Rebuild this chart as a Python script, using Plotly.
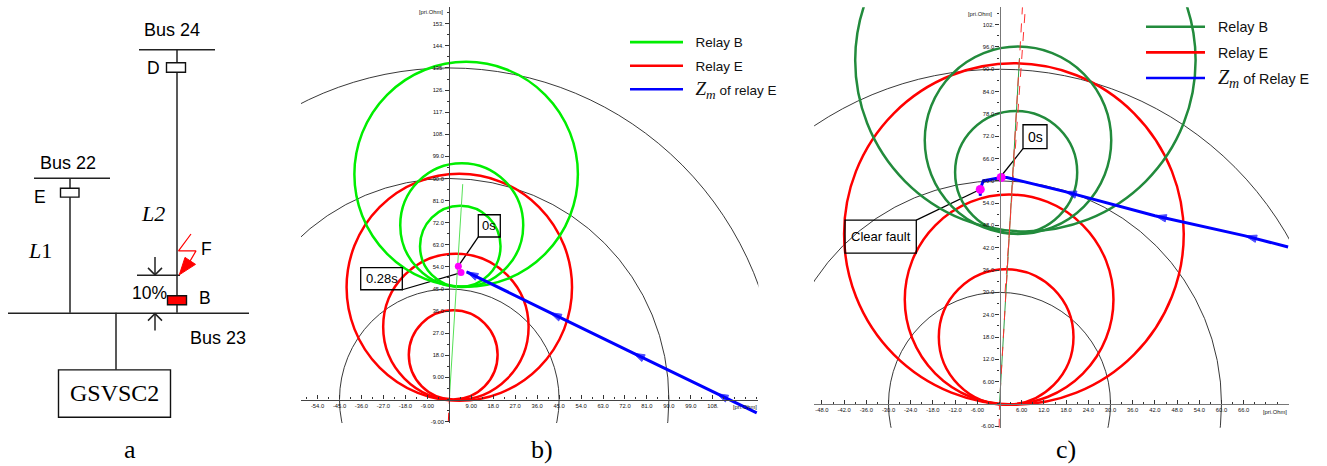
import plotly.graph_objects as go

W, H = 1327, 466
SANS = "Liberation Sans"
SERIF = "Liberation Serif"

# ---------- data: panel b (pri.Ohm) ----------
b_arc_radii = [45, 90, 135]
b_red_cx = [1.6, 2.7, 4.1]
b_red_cy = [18.2, 29.6, 45.7]
b_red_r = [18.2, 29.8, 46.2]
b_green_cx = [4.5, 5.1, 6.9]
b_green_cy = [62.4, 71.0, 91.7]
b_green_r = [16.5, 25.2, 45.8]
b_blue_x = [126.0, 109.6, 75.4, 41.3, 7.1]
b_blue_y = [-5.4, 2.4, 18.9, 35.4, 52.0]
b_blue_size = [0, 12, 12, 12, 12]
b_pink_x = [3.7, 4.8]
b_pink_y = [54.3, 51.7]
b_green_dash_x = [0.0, 5.5]
b_green_dash_y = [0.0, 87.7]
b_red_dash_x = [-0.4, 0.3]
b_red_dash_y = [-9.0, 5.0]
b_xticks = [-54, -45, -36, -27, -18, -9, 9, 18, 27, 36, 45, 54, 63, 72, 81, 90, 99, 108]
b_xlabels = ["-54.0", "-45.0", "-36.0", "-27.0", "-18.0", "-9.00", "9.00", "18.0", "27.0", "36.0",
             "45.0", "54.0", "63.0", "72.0", "81.0", "90.0", "99.0", "108."]
b_yticks = [-9, 9, 18, 27, 36, 45, 54, 63, 72, 81, 90, 99, 108, 117, 126, 135, 144, 153]
b_ylabels = ["-9.00", "9.00", "18.0", "27.0", "36.0", "45.0", "54.0", "63.0", "72.0", "81.0",
             "90.0", "99.0", "108.", "117.", "126.", "135.", "144.", "153."]

# ---------- data: panel c (pri.Ohm) ----------
c_arc_radii = [30, 60, 90]
c_red_cx = [1.8, 2.6, 3.9]
c_red_cy = [18.0, 28.1, 45.7]
c_red_r = [18.2, 28.2, 45.9]
c_green_cx = [4.5, 5.0, 7.0]
c_green_cy = [62.3, 70.9, 92.4]
c_green_r = [16.5, 25.2, 46.0]
c_blue_x = [78.0, 66.4, 42.0, 17.7, 2.0, 0.45, -4.4, -5.2, -5.2]
c_blue_y = [42.2, 45.2, 50.6, 57.1, 60.9, 60.9, 60.0, 57.7, 56.0]
c_blue_size = [0, 12, 12, 12, 0, 0, 0, 0, 8]
c_pink_x = [0.45, -5.2]
c_pink_y = [60.9, 57.7]
c_green_dash_x = [0.0, 5.4]
c_green_dash_y = [0.0, 93.0]
c_red_dash_x = [-0.1, 0.0, 6.2]
c_red_dash_y = [-6.4, 0.0, 106.7]
c_red_dash2_x = [1.5, 7.0]
c_red_dash2_y = [30.0, 106.7]
c_xticks = [-48, -42, -36, -30, -24, -18, -12, -6, 6, 12, 18, 24, 30, 36, 42, 48, 54, 60, 66]
c_xlabels = ["-48.0", "-42.0", "-36.0", "-30.0", "-24.0", "-18.0", "-12.0", "-6.00", "6.00", "12.0",
             "18.0", "24.0", "30.0", "36.0", "42.0", "48.0", "54.0", "60.0", "66.0"]
c_yticks = [-6, 6, 12, 18, 24, 30, 36, 42, 48, 54, 60, 66, 72, 78, 84, 90, 96, 102]
c_ylabels = ["-6.00", "6.00", "12.0", "18.0", "24.0", "30.0", "36.0", "42.0", "48.0", "54.0",
             "60.0", "66.0", "72.0", "78.0", "84.0", "90.0", "96.0", "102."]

# ---------- data: panel a (one-line diagram) ----------
diagram_lines = {
    "bus24": ([139, 215], [50, 50]),
    "line2": ([177, 177], [50, 314]),
    "bus22": ([34, 110], [179, 179]),
    "line1": ([70, 70], [179, 314]),
    "bus23": ([8, 249], [314.5, 314.5]),
    "gsvsc": ([116, 116], [314, 371]),
    "mark": ([137, 180], [276.5, 276.5]),
    "down": ([155, 155], [258, 276]),
    "down_head": ([148, 155, 162], [269, 276, 269]),
    "up": ([155, 155], [332, 315]),
    "up_head": ([148, 155, 162], [322, 315, 322]),
}
fault_x = [191, 178.5, 196, 189]
fault_y = [235, 252, 252, 264]
fault_head_x = [179.3, 185, 195.5, 179.3]
fault_head_y = [276, 258.5, 265.5, 276]
diagram_boxes = {
    "D": ([166.5, 185.5], [63, 72.5], "white"),
    "E": ([60.5, 79], [189, 198], "white"),
    "B": ([167.5, 186.5], [297, 306], "#FF0000"),
    "G": ([58.5, 170.5], [371.5, 419], "white"),
}
diagram_text = [
    ("Bus 24", 172, 30, SANS, 18), ("D", 153.5, 68, SANS, 17.5), ("Bus 22", 68, 164, SANS, 18),
    ("E", 40, 198, SANS, 17.5), ("<i>L</i>1", 40, 252, SERIF, 22), ("<i>L2</i>", 153, 214, SERIF, 22),
    ("F", 206, 250, SANS, 17.5), ("10%", 149, 294, SANS, 17.5), ("B", 205, 299, SANS, 17.5),
    ("Bus 23", 218, 339, SANS, 18), ("GSVSC2", 114.5, 395, SERIF, 24), ("a", 130, 451, SERIF, 26),
]

fig = go.Figure()
shapes, annos = [], []


def add_text(text, x, y, font, size, xref="paper", yref="paper", color="black", xa="center"):
    annos.append(dict(text=text, x=x, y=y, xref=xref, yref=yref, xanchor=xa, yanchor="middle",
                      showarrow=False, font=dict(family=font, size=size, color=color)))


def line(trace_x, trace_y, xa, ya, color="black", width=1.5, dash="solid"):
    fig.add_trace(go.Scatter(x=trace_x, y=trace_y, xaxis=xa, yaxis=ya, mode="lines", showlegend=False,
                             hoverinfo="skip", line=dict(color=color, width=width, dash=dash)))


def key(name, color, xa, ya, legend):
    # empty series: supplies only the legend row, without the path's arrow markers
    fig.add_trace(go.Scatter(x=[None], y=[None], xaxis=xa, yaxis=ya, mode="lines", name=name,
                             legend=legend, legendgroup=name + legend, line=dict(color=color, width=2.6)))


def circles(cx, cy, r, xa, ya, color, width):
    for i in range(len(cx)):
        shapes.append(dict(type="circle", xref=xa, yref=ya, x0=cx[i] - r[i], x1=cx[i] + r[i],
                           y0=cy[i] - r[i], y1=cy[i] + r[i], layer="below", line=dict(color=color, width=width)))


def panel(suffix, x0, x1, y_top, y_bot, ox, oy, sx, sy, xticks, xlabels, yticks, ylabels, xminor, yminor, axcolor):
    xname, yname = f"xaxis{suffix}", f"yaxis{suffix}"
    common = dict(showgrid=False, zeroline=False, showline=True, linecolor=axcolor, linewidth=1.4,
                  tickcolor="#333", tickfont=dict(family=SANS, size=5.8, color="#111"),
                  ticklen=4, tickwidth=1, tickmode="array")
    fig.update_layout({
        xname: dict(common, domain=[x0 / W, x1 / W], range=[(x0 - ox) / sx, (x1 - ox) / sx], anchor="free",
                    position=1 - oy / H, ticks="inside", tickvals=xticks, ticktext=xlabels,
                    minor=dict(dtick=xminor, ticks="inside", ticklen=2, tickcolor="#333", tickwidth=1),
                    side="bottom"),
        yname: dict(common, domain=[1 - y_bot / H, 1 - y_top / H], range=[(oy - y_bot) / sy, (oy - y_top) / sy],
                    anchor="free", position=ox / W, ticks="outside", tickvals=yticks, ticktext=ylabels,
                    minor=dict(dtick=yminor, ticks="outside", ticklen=2, tickcolor="#333", tickwidth=1),
                    side="left"),
    })


def px(x):
    return x / W


def py(y):
    return 1 - y / H


def paper_line(x0, y0, x1, y1, width=1.3):
    shapes.append(dict(type="line", xref="paper", yref="paper", x0=px(x0), x1=px(x1), y0=py(y0), y1=py(y1),
                       layer="below", line=dict(color="black", width=width)))


def label_box(text, x0, y0, x1, y1, size=13):
    shapes.append(dict(type="rect", xref="paper", yref="paper", x0=px(x0), x1=px(x1), y0=py(y0), y1=py(y1),
                       layer="above", line=dict(color="black", width=1.3)))
    add_text(text, px((x0 + x1) / 2), py((y0 + y1) / 2), SANS, size)


GAP = "\u00a0\u00a0"

# ---------- panel b ----------
BX, BY, BSX, BSY = 449.3, 401.3, 2.44, 2.467
panel("", 301, 758.3, 7.3, 424.7, BX, BY, BSX, BSY, b_xticks, b_xlabels, b_yticks, b_ylabels, 4.5, 4.5, "#444")
circles([0] * 3, [0] * 3, b_arc_radii, "x", "y", "#222", 0.9)
circles(b_red_cx, b_red_cy, b_red_r, "x", "y", "#FF0000", 2.5)
circles(b_green_cx, b_green_cy, b_green_r, "x", "y", "#00EE00", 2.5)
key(GAP + "Relay B", "#00EE00", "x", "y", "legend")
key(GAP + "Relay E", "#FF0000", "x", "y", "legend")
key(GAP + '<span style="font-family:Liberation Serif;font-size:19px"><i>Z</i><sub><i>m</i></sub></span> of relay E',
    "#0000FF", "x", "y", "legend")
line(b_green_dash_x, b_green_dash_y, "x", "y", "#55E055", 1)
line(b_red_dash_x, b_red_dash_y, "x", "y", "#FF0000", 1, "dash")
fig.add_trace(go.Scatter(x=b_blue_x, y=b_blue_y, xaxis="x", yaxis="y", mode="lines+markers", showlegend=False,
                         line=dict(color="#0000FF", width=3, backoff=0),
                         marker=dict(symbol="arrow", size=b_blue_size, angleref="previous", color="#0000FF",
                                     line=dict(width=1, color="#0000FF"))))
fig.add_trace(go.Scatter(x=b_pink_x, y=b_pink_y, xaxis="x", yaxis="y", mode="markers", showlegend=False,
                         marker=dict(color="#FF00FF", size=7)))
label_box("0s", 478.3, 215.7, 500.3, 238)
paper_line(478.3, 238, 458.3, 267.3)
label_box("0.28s", 360.7, 268.7, 402.3, 291)
paper_line(402.3, 291, 461, 273.7)
add_text("[pri.Ohm]", px(431), py(12.3), SANS, 5.8, color="#111")
add_text("[pri.Ohm]", px(745), py(408.7), SANS, 5.8, color="#111")
add_text("b)", px(541.5), py(451), SERIF, 26)

# ---------- panel c ----------
CX, CY, CSX, CSY = 999.5, 405.7, 3.7, 3.735
panel("2", 814, 1289, 7.3, 429.7, CX, CY, CSX, CSY, c_xticks, c_xlabels, c_yticks, c_ylabels, 3, 3, "#777")
circles([0] * 3, [0] * 3, c_arc_radii, "x2", "y2", "#222", 0.9)
circles(c_red_cx, c_red_cy, c_red_r, "x2", "y2", "#FF0000", 2.5)
circles(c_green_cx, c_green_cy, c_green_r, "x2", "y2", "#228B3C", 2.5)
key(GAP + "Relay B", "#228B3C", "x2", "y2", "legend2")
key(GAP + "Relay E", "#FF0000", "x2", "y2", "legend2")
key(GAP + '<span style="font-family:Liberation Serif;font-size:20px"><i>Z</i><sub><i>m</i></sub></span> of Relay E',
    "#0000FF", "x2", "y2", "legend2")
line(c_green_dash_x, c_green_dash_y, "x2", "y2", "#2E9E45", 1)
line(c_red_dash_x, c_red_dash_y, "x2", "y2", "#FF3030", 1, "dash")
line(c_red_dash2_x, c_red_dash2_y, "x2", "y2", "#FF3030", 1, "dash")
fig.add_trace(go.Scatter(x=c_blue_x, y=c_blue_y, xaxis="x2", yaxis="y2", mode="lines+markers", showlegend=False,
                         line=dict(color="#0000FF", width=3, backoff=0),
                         marker=dict(symbol="arrow", size=c_blue_size, angleref="previous", color="#0000FF",
                                     line=dict(width=1, color="#0000FF"))))
fig.add_trace(go.Scatter(x=c_pink_x, y=c_pink_y, xaxis="x2", yaxis="y2", mode="markers", showlegend=False,
                         marker=dict(color="#FF00FF", size=9)))
label_box("0s", 1023, 125.3, 1047, 149.3, 14)
paper_line(1023, 149.3, 1001, 177)
label_box("Clear fault", 845, 221, 916.3, 254.3, 13)
paper_line(916.3, 221, 980, 190.3)
add_text("[pri.Ohm]", px(980.3), py(13.7), SANS, 5.8, color="#111")
add_text("[pri.Ohm]", px(1275), py(413.7), SANS, 5.8, color="#111")
add_text("c)", px(1066), py(451), SERIF, 26)

# ---------- panel a ----------
for xs, ys in diagram_lines.values():
    line(xs, ys, "x3", "y3", "#222", 1.5)
line(fault_x, fault_y, "x3", "y3", "#FF0000", 1.2)
fig.add_trace(go.Scatter(x=fault_head_x, y=fault_head_y, xaxis="x3", yaxis="y3", mode="lines", fill="toself",
                         fillcolor="#FF0000", showlegend=False, hoverinfo="skip",
                         line=dict(color="#FF0000", width=1)))
for xs, ys, fill in diagram_boxes.values():
    shapes.append(dict(type="rect", xref="x3", yref="y3", x0=xs[0], x1=xs[1], y0=ys[0], y1=ys[1],
                       layer="above", fillcolor=fill, line=dict(color="#111", width=1.4)))
for t, x, y, f, s in diagram_text:
    add_text(t, x, y, f, s, "x3", "y3")

legend_common = dict(bgcolor="rgba(0,0,0,0)", borderwidth=0, xanchor="left", yanchor="top", traceorder="grouped",
                     itemclick=False, itemdoubleclick=False)
fig.update_layout(
    width=W, height=H, margin=dict(l=0, r=0, t=0, b=0), plot_bgcolor="white", paper_bgcolor="white",
    showlegend=True, shapes=shapes, annotations=annos,
    xaxis3=dict(domain=[0, 290 / W], range=[0, 290], visible=False, anchor="y3"),
    yaxis3=dict(domain=[0, 1], range=[H, 0], visible=False, anchor="x3"),
    legend=dict(legend_common, x=625 / W, y=1 - 27 / H, itemwidth=53, tracegroupgap=3,
                font=dict(family=SANS, size=13.5, color="#111")),
    legend2=dict(legend_common, x=1141 / W, y=1 - 11 / H, itemwidth=59, tracegroupgap=4,
                 font=dict(family=SANS, size=14.3, color="#111")),
)
fig.write_html("out.html", config={"displayModeBar": False}, post_script="document.body.style.margin='0';")
